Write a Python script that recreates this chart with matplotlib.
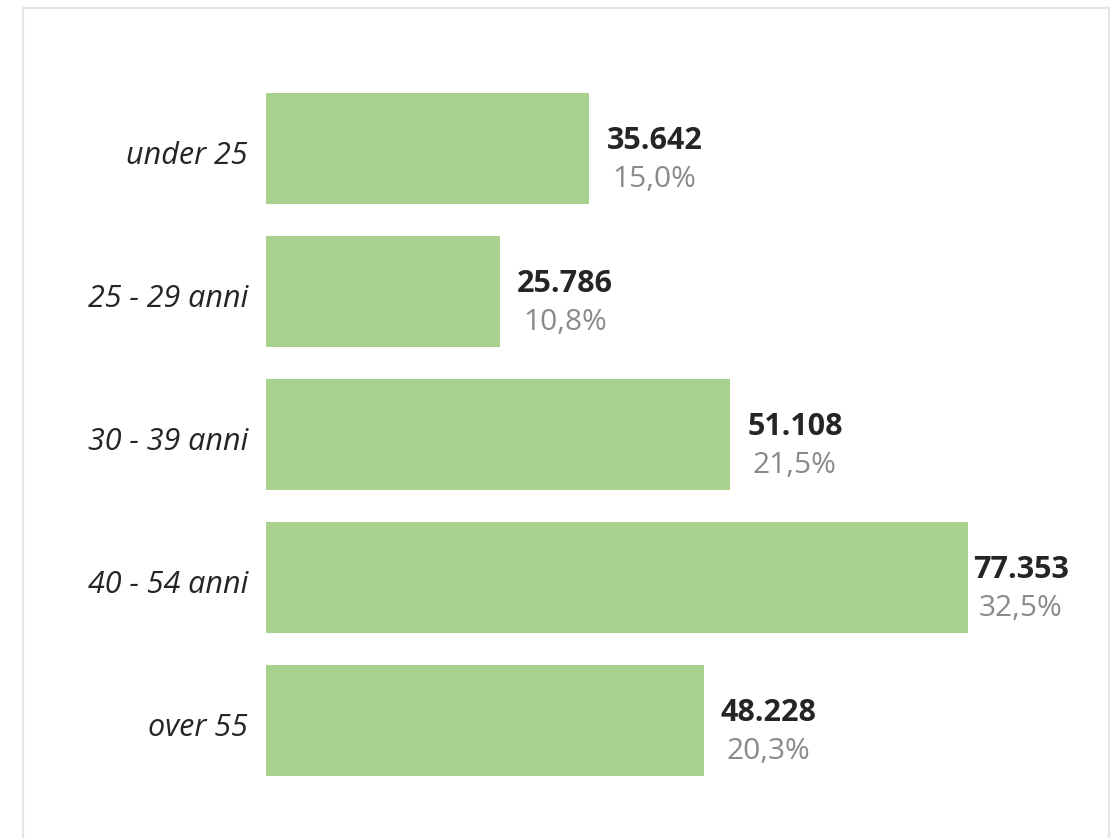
import matplotlib.pyplot as plt
from matplotlib.lines import Line2D

# dati
categorie = ['under 25', '25 - 29 anni', '30 - 39 anni', '40 - 54 anni', 'over 55']
valori = [35642, 25786, 51108, 77353, 48228]
percentuali = ['15,0%', '10,8%', '21,5%', '32,5%', '20,3%']
etichette_valori = ['35.642', '25.786', '51.108', '77.353', '48.228']

W, H = 1114, 838
fig = plt.figure(figsize=(W / 100, H / 100), dpi=100)
fig.patch.set_facecolor('white')

# asse dal bordo sinistro delle barre al bordo destro del riquadro
ax_left, ax_right = 266, 1108
ax = fig.add_axes([ax_left / W, 0, (ax_right - ax_left) / W, 1])
px_per_unit = 702 / 77353
xmax = (ax_right - ax_left) / px_per_unit
ax.set_xlim(0, xmax)
# centro prima barra a 148.5 px, passo 143 px
ax.set_ylim((H - 148.5) / 143, -148.5 / 143)

pos = list(range(len(categorie)))
ax.barh(pos, valori, height=111 / 143, color='#a9d18e', edgecolor='none')

for i, (v, lab, pct) in enumerate(zip(valori, etichette_valori, percentuali)):
    xc = min(v / xmax + 65 / (ax_right - ax_left), (1021 - ax_left) / (ax_right - ax_left))
    ax.annotate(lab, xy=(xc, i), xycoords=('axes fraction', 'data'),
                xytext=(0, -0.6), textcoords='offset points',
                ha='center', va='baseline', fontsize=22, fontweight='bold',
                color='#252525', family='Open Sans')
    ax.annotate(pct, xy=(xc, i), xycoords=('axes fraction', 'data'),
                xytext=(0, -27.4), textcoords='offset points',
                ha='center', va='baseline', fontsize=21.5,
                color='#888a8e', family='Open Sans')
    ax.annotate(categorie[i], xy=(0, i), xycoords=('axes fraction', 'data'),
                xytext=(-13, -11.1), textcoords='offset points',
                ha='right', va='baseline', fontsize=22, style='italic',
                color='#252525', family='Open Sans')

ax.axis('off')

# riquadro grigio chiaro
bordo = dict(color='#e6e6e6', linewidth=1.6, transform=fig.transFigure)
fig.add_artist(Line2D([22.5 / W, 22.5 / W], [0, 1 - 8.5 / H], **bordo))
fig.add_artist(Line2D([22.5 / W, 1108.5 / W], [1 - 8.5 / H, 1 - 8.5 / H], **bordo))
fig.add_artist(Line2D([1108.5 / W, 1108.5 / W], [0, 1 - 8.5 / H], **bordo))

fig.savefig('out.png', dpi=100)
